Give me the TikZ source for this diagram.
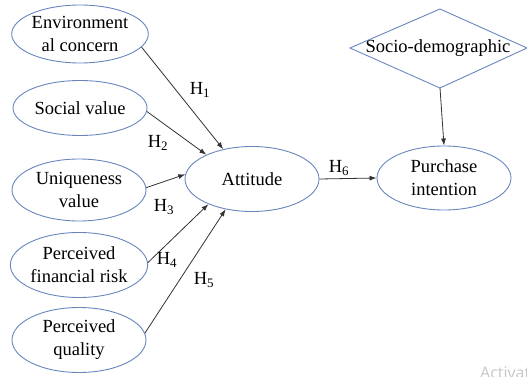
\documentclass[tikz,border=0pt]{standalone}
\usepackage{fontspec}
\setmainfont{Liberation Serif}
\newfontfamily\wmfont{Open Sans}
\usetikzlibrary{shapes.geometric,arrows.meta}
\definecolor{edgeblue}{HTML}{6A86BE}
\definecolor{arrowgray}{HTML}{333333}
\begin{document}
\begin{tikzpicture}[x=1pt,y=-1pt,
  construct/.style={ellipse,draw=edgeblue,line width=0.9pt,minimum width=134pt,inner sep=0pt,align=center,font=\fontsize{18.5}{23}\selectfont},
  link/.style={draw=arrowgray,line width=0.8pt,-{Latex[length=7pt,width=5pt]}},
  hlabel/.style={font=\fontsize{18.5}{22}\selectfont,inner sep=0pt}]
\useasboundingbox (0,0) rectangle (527,377);
\clip (0,0) rectangle (527,377);
\fill[white] (0,0) rectangle (527,377);

\node[construct,minimum height=58pt] (env) at (80,34) {Environment\\al concern};
\node[construct,minimum height=55pt] (soc) at (80,108) {Social value};
\node[construct,minimum height=62pt] (uni) at (79,190) {Uniqueness\\value};
\node[construct,minimum height=65pt] (risk) at (79,265) {Perceived\\financial risk};
\node[construct,minimum height=65pt] (qual) at (79,340) {Perceived\\quality};
\node[construct,minimum height=65pt] (att) at (252,179) {Attitude};
\node[construct,minimum height=64pt] (pur) at (444,178) {Purchase\\intention};

% moderator diamond
\node[inner sep=0pt,font=\fontsize{18.5}{23}\selectfont] (socio) at (438,48) {Socio-demographic};
\coordinate (dS) at (440,88);
\draw[edgeblue,line width=0.9pt] (350,48) -- (440,9) -- (527,48) -- (dS) -- cycle;

\draw[link] (env.-12) -- (att.134);
\draw[link] (soc.-3) -- (att.152);
\draw[link] (uni.2) -- (att.176);
\draw[link] (risk.2) -- (att.210);
\draw[link] (qual.6) -- (att.229);
\draw[link] (att.east) -- (pur.west);
\draw[link] (dS) -- (pur.north);

\node[hlabel] (h1) at (200,90) {H\textsubscript{1}};
\node[hlabel] (h2) at (158,143) {H\textsubscript{2}};
\node[hlabel] (h3) at (164,207) {H\textsubscript{3}};
\node[hlabel] (h4) at (167,260) {H\textsubscript{4}};
\node[hlabel] (h5) at (204,280) {H\textsubscript{5}};
\node[hlabel] (h6) at (339,168) {H\textsubscript{6}};

\node[anchor=base west,inner sep=0pt,text=black!22,font=\wmfont\fontsize{16}{16}\selectfont] (wm) at (480,378) {Activat};
\end{tikzpicture}
\end{document}
